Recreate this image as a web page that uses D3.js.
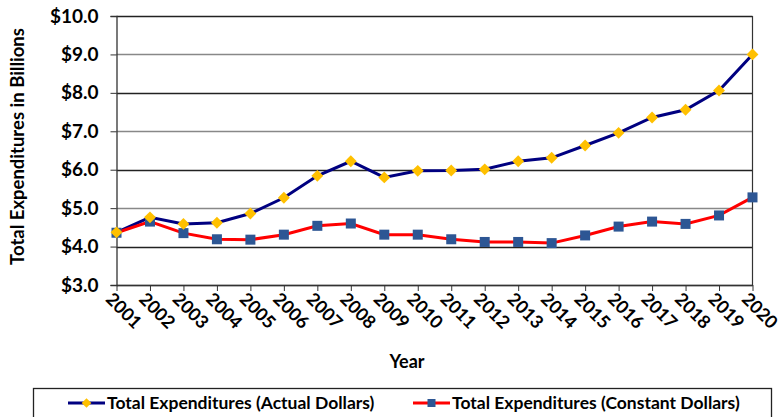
<!DOCTYPE html>
<html>
<head>
<meta charset="utf-8">
<script src="https://cdn.jsdelivr.net/npm/d3@7"></script>
<style>
  body { margin: 0; background: #fff; }
  text { font-family: Lato, sans-serif; font-weight: bold; fill: #000; }
</style>
</head>
<body>
<div id="chart"></div>
<script>
const years = ["2001","2002","2003","2004","2005","2006","2007","2008","2009","2010",
               "2011","2012","2013","2014","2015","2016","2017","2018","2019","2020"];
const actualDollars = [4.37, 4.76, 4.59, 4.62, 4.86, 5.27, 5.84, 6.22, 5.80, 5.97,
                       5.98, 6.01, 6.22, 6.31, 6.63, 6.96, 7.36, 7.56, 8.06, 9.00];
const constantDollars = [4.36, 4.65, 4.35, 4.19, 4.18, 4.31, 4.54, 4.60, 4.31, 4.31,
                         4.19, 4.12, 4.12, 4.09, 4.29, 4.52, 4.65, 4.59, 4.81, 5.28];
const yTicks = [3, 4, 5, 6, 7, 8, 9, 10];
const seriesNames = ["Total Expenditures (Actual Dollars)", "Total Expenditures (Constant Dollars)"];

let margin = {top: 16, left: 116.5, right: 784 - 752.5, bottom: 417 - 285};
let width = 784, height = 417;
let w = width - margin.left - margin.right;
let h = height - margin.top - margin.bottom;

let svg = d3.select("#chart").append("svg")
    .attr("width", width)
    .attr("height", height);

let x = d3.scalePoint().domain(years).range([0, w]);
let y = d3.scaleLinear().domain([3, 10]).range([h, 0]);

let g = svg.append("g").attr("transform", `translate(${margin.left},${margin.top})`);

// gridlines
g.append("g").selectAll("line")
  .data(yTicks)
  .enter().append("line")
    .attr("x1", 0).attr("x2", w)
    .attr("y1", d => Math.round(y(d)) + 0.5).attr("y2", d => Math.round(y(d)) + 0.5)
    .attr("stroke", (d, i) => i % 2 ? "#222" : "#888")
    .attr("stroke-width", 1.3);

// right border
g.append("line")
  .attr("x1", w).attr("x2", w).attr("y1", 0).attr("y2", h)
  .attr("stroke", "#333").attr("stroke-width", 1.2);

// y axis
let yAxis = g.append("g")
  .call(d3.axisLeft(y).tickValues(yTicks).tickSize(6).tickPadding(12).tickFormat(d => "$" + d.toFixed(1)));
yAxis.select(".domain").attr("stroke", "#333").attr("stroke-width", 1.3);
yAxis.selectAll(".tick line").attr("stroke", "#333");
yAxis.selectAll("text")
  .style("font-size", "19px").style("font-family", "Lato, sans-serif").style("font-weight", "bold");

// x axis
let xAxis = g.append("g")
  .attr("transform", `translate(0,${h})`)
  .call(d3.axisBottom(x).tickSize(6).tickSizeOuter(0));
xAxis.select(".domain").attr("stroke", "#333").attr("stroke-width", 1.3);
xAxis.selectAll(".tick line").attr("stroke", "#333");
xAxis.selectAll("text")
  .style("font-size", "18px").style("font-family", "Lato, sans-serif").style("font-weight", "bold")
  .attr("text-anchor", "start")
  .attr("dy", 0)
  .attr("transform", "translate(-6,9) rotate(45)");

// axis titles
svg.append("text")
  .attr("transform", `translate(24,${margin.top + h / 2 - 4}) rotate(-90)`)
  .attr("text-anchor", "middle")
  .style("font-size", "18.5px")
  .text("Total Expenditures in Billions");

svg.append("text")
  .attr("x", 407).attr("y", 368)
  .attr("text-anchor", "middle")
  .style("font-size", "18px")
  .text("Year");

// lines
let line = d3.line().x((d, i) => x(years[i])).y(d => y(d));

g.append("path").datum(actualDollars)
  .attr("fill", "none").attr("stroke", "#000080").attr("stroke-width", 3)
  .attr("d", line);
g.append("path").datum(constantDollars)
  .attr("fill", "none").attr("stroke", "#ff0000").attr("stroke-width", 3)
  .attr("d", line);

// markers
g.append("g").selectAll("rect")
  .data(constantDollars)
  .enter().append("rect")
    .attr("x", (d, i) => x(years[i]) - 5)
    .attr("y", d => y(d) - 5)
    .attr("width", 10).attr("height", 10)
    .attr("fill", "#2d5694");

let diamond = d3.symbol().type(d3.symbolDiamond2).size(90);
g.append("g").selectAll("path")
  .data(actualDollars)
  .enter().append("path")
    .attr("transform", (d, i) => `translate(${x(years[i])},${y(d)})`)
    .attr("d", diamond)
    .attr("fill", "#ffc000");

// legend
let legend = svg.append("g");
legend.append("rect")
  .attr("x", 33.5).attr("y", 388.5).attr("width", 738).attr("height", 40)
  .attr("fill", "none").attr("stroke", "#222").attr("stroke-width", 1.3);

let items = [
  {x: 68, color: "#000080", marker: "diamond"},
  {x: 413, color: "#ff0000", marker: "square"}
];
items.forEach((it, i) => {
  let lg = legend.append("g").attr("transform", `translate(${it.x},403)`);
  lg.append("line").attr("x1", 0).attr("x2", 37).attr("stroke", it.color).attr("stroke-width", 3);
  if (it.marker === "diamond") {
    lg.append("path").attr("transform", "translate(18.5,0)")
      .attr("d", d3.symbol().type(d3.symbolDiamond2).size(60)).attr("fill", "#ffc000");
  } else {
    lg.append("rect").attr("x", 14.5).attr("y", -4).attr("width", 8).attr("height", 8).attr("fill", "#2d5694");
  }
  lg.append("text").attr("x", 39).attr("y", 6)
    .style("font-size", "17.5px")
    .text(seriesNames[i]);
});
</script>
</body>
</html>
